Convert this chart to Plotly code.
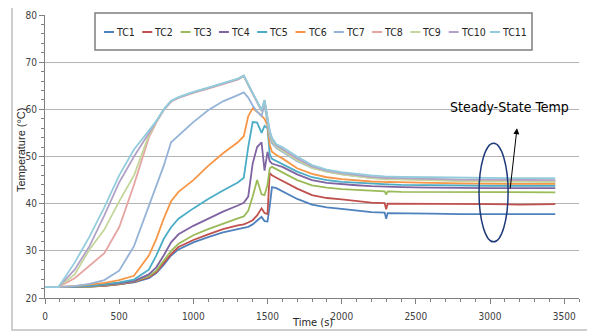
import plotly.graph_objects as go

# ---------------- data ----------------
time_s = [0, 90, 200, 300, 400, 500, 600, 700, 750, 800, 850, 900, 1000, 1100, 1200, 1300,
          1340, 1370, 1400, 1430, 1460, 1480, 1500, 1515, 1530, 1560, 1600, 1700, 1800, 1900,
          2000, 2100, 2200, 2290, 2300, 2310, 2400, 2600, 2800, 3000, 3200, 3440]

tc1 = [22.3, 22.3, 22.3, 22.4, 22.6, 22.9, 23.3, 24.2, 25.3, 27.0, 29.0, 30.3, 31.8, 32.9, 33.9, 34.6,
       34.8, 35.1, 35.6, 36.5, 37.2, 36.3, 36.2, 39.5, 43.5, 43.3, 42.6, 41.0, 39.8, 39.2,
       38.9, 38.5, 38.2, 38.1, 36.8, 38.0, 38.0, 37.9, 37.8, 37.8, 37.7, 37.8]
tc2 = [22.3, 22.3, 22.3, 22.4, 22.6, 22.9, 23.4, 24.4, 25.5, 27.3, 29.3, 30.8, 32.3, 33.5, 34.6, 35.4,
       35.6, 36.0, 36.5, 37.5, 39.0, 38.0, 37.8, 46.5, 46.0, 45.5, 44.8, 43.2, 41.8, 41.2,
       40.9, 40.5, 40.2, 40.1, 38.8, 40.0, 40.0, 40.0, 39.9, 39.9, 39.8, 39.9]
tc3 = [22.3, 22.3, 22.3, 22.4, 22.7, 23.0, 23.5, 24.6, 25.8, 27.8, 30.0, 31.5, 33.3, 34.6, 35.8, 36.9,
       37.3, 38.5, 41.5, 45.0, 42.0, 41.8, 44.0, 47.5, 47.8, 47.3, 46.6, 45.0, 43.9, 43.4,
       43.1, 42.9, 42.7, 42.6, 41.9, 42.6, 42.5, 42.5, 42.4, 42.4, 42.4, 42.4]
tc4 = [22.3, 22.3, 22.4, 22.5, 22.8, 23.1, 23.6, 25.0, 26.5, 29.0, 31.8, 33.5, 35.3, 36.8, 38.3, 39.6,
       40.2, 41.5, 48.5, 52.0, 53.0, 47.0, 51.0, 49.0, 48.5, 48.2, 47.8, 46.2, 45.0, 44.4,
       44.1, 43.9, 43.7, 43.6, 43.5, 43.6, 43.5, 43.4, 43.3, 43.3, 43.3, 43.3]
tc5 = [22.3, 22.3, 22.4, 22.6, 22.9, 23.3, 23.9, 26.0, 29.0, 32.5, 35.0, 36.8, 39.0, 41.0, 42.8, 44.5,
       45.5, 52.0, 57.3, 57.2, 55.0, 56.5, 56.0, 50.5, 49.5, 49.0, 48.5, 46.8, 45.6, 45.0,
       44.6, 44.4, 44.2, 44.1, 44.0, 44.1, 44.0, 43.9, 43.9, 43.8, 43.8, 43.8]
tc6 = [22.3, 22.3, 22.5, 22.8, 23.2, 23.8, 24.7, 29.0, 32.5, 36.8, 40.5, 42.5, 45.0, 48.0, 50.7, 53.0,
       54.3, 58.5, 60.2, 59.5, 58.5, 58.0, 56.5, 52.5, 51.0, 50.3, 49.6, 47.5, 46.3, 45.6,
       45.2, 44.9, 44.7, 44.6, 44.5, 44.6, 44.5, 44.4, 44.3, 44.2, 44.2, 44.2]
tc7 = [22.3, 22.3, 22.5, 23.0, 23.8, 25.8, 31.0, 39.5, 43.5, 48.0, 53.0, 54.4, 57.3, 59.8, 61.7, 63.0,
       63.6, 62.5, 60.8, 59.5, 58.6, 61.0, 57.5, 54.0, 52.8, 51.8, 51.0, 49.0, 47.6, 46.8,
       46.2, 45.8, 45.5, 45.3, 45.2, 45.3, 45.2, 45.0, 44.9, 44.8, 44.7, 44.7]
tc8 = [22.3, 22.3, 24.2, 26.8, 29.5, 35.0, 44.0, 54.0, 57.2, 59.8, 61.6, 62.4, 63.5, 64.4, 65.3, 66.3,
       67.0, 65.3, 63.3, 61.5, 59.6, 61.8, 58.3, 55.0, 53.6, 52.2, 51.4, 49.4, 47.8, 47.0,
       46.4, 46.0, 45.6, 45.4, 45.3, 45.4, 45.3, 45.1, 45.0, 44.9, 44.8, 44.8]
tc9 = [22.3, 22.3, 25.0, 30.3, 34.5, 40.5, 46.0, 54.5, 57.3, 59.9, 61.7, 62.5, 63.6, 64.5, 65.4, 66.4,
       67.1, 65.4, 63.4, 61.6, 59.7, 61.9, 58.1, 54.8, 53.4, 52.0, 51.2, 49.2, 47.6, 46.8,
       46.2, 45.8, 45.4, 45.2, 45.1, 45.2, 45.1, 44.9, 44.8, 44.7, 44.6, 44.6]
tc10 = [22.3, 22.3, 26.0, 31.0, 37.5, 44.5, 50.0, 54.8, 57.4, 59.9, 61.7, 62.5, 63.6, 64.5, 65.4, 66.4,
        67.1, 65.4, 63.4, 61.6, 59.7, 61.9, 58.4, 55.2, 53.8, 52.3, 51.6, 49.6, 47.9, 47.0,
        46.5, 46.1, 45.7, 45.5, 45.4, 45.5, 45.4, 45.2, 45.1, 45.1, 45.0, 45.0]
tc11 = [22.3, 22.3, 27.5, 33.0, 39.2, 46.0, 51.5, 55.4, 57.5, 60.0, 61.8, 62.6, 63.7, 64.6, 65.5, 66.5,
        67.2, 65.5, 63.5, 61.7, 59.8, 62.0, 58.5, 55.5, 54.0, 52.6, 52.0, 50.0, 48.2, 47.2,
        46.7, 46.3, 46.0, 45.8, 45.8, 45.8, 45.7, 45.6, 45.5, 45.5, 45.4, 45.4]

series_names = ["TC1", "TC2", "TC3", "TC4", "TC5", "TC6", "TC7", "TC8", "TC9", "TC10", "TC11"]
series_values = [tc1, tc2, tc3, tc4, tc5, tc6, tc7, tc8, tc9, tc10, tc11]
x_tick_values = [0, 500, 1000, 1500, 2000, 2500, 3000, 3500]
y_tick_values = [20, 30, 40, 50, 60, 70, 80]

# ---------------- styling ----------------
colors = ["#4F81BD", "#C0504D", "#9BBB59", "#8064A2", "#4BACC6", "#F79646",
          "#95B3D7", "#E6A5A2", "#C3D69B", "#B3A2C7", "#93CDDD"]
COND = "DejaVu Sans Condensed, Liberation Sans, sans-serif"

# the page body adds an 8px offset; lay the figure out in window pixels minus that offset
OFF = 8
W, H = 595, 333
PLOT_L, PLOT_R, PLOT_T, PLOT_B = 45, 579, 15, 298      # plot area in window pixels
ML, MT = PLOT_L - OFF, PLOT_T - OFF
MR, MB = W - (PLOT_R - OFF), H - (PLOT_B - OFF)
PW, PH = PLOT_R - PLOT_L, PLOT_B - PLOT_T


def px_x(px):
    return (px - PLOT_L) / PW


def px_y(py):
    return (PLOT_B - py) / PH


fig = go.Figure()
for name, vals, col in zip(series_names, series_values, colors):
    fig.add_trace(go.Scatter(x=time_s, y=vals, mode="lines", name=name,
                             line=dict(color=col, width=1.8), showlegend=False))

shapes = []
annotations = []

# outer chart frame
shapes.append(dict(type="rect", xref="paper", yref="paper",
                   x0=px_x(12), x1=px_x(590), y0=px_y(330), y1=px_y(5),
                   line=dict(color="#BFBFBF", width=1.5), layer="below"))

# legend box
shapes.append(dict(type="rect", xref="paper", yref="paper",
                   x0=px_x(95), x1=px_x(532), y0=px_y(50), y1=px_y(13),
                   line=dict(color="#7F7F7F", width=1.5), fillcolor="white", layer="above"))
for i, (name, col) in enumerate(zip(series_names, colors)):
    x0 = 104 + 38.3 * i + (3 if i == 10 else 0)
    shapes.append(dict(type="line", xref="paper", yref="paper",
                       x0=px_x(x0), x1=px_x(x0 + 10), y0=px_y(32), y1=px_y(32),
                       line=dict(color=col, width=2), layer="above"))
    annotations.append(dict(xref="paper", yref="paper", x=px_x(x0 + 10), y=px_y(32),
                            xanchor="left", yanchor="middle", showarrow=False, text=name,
                            font=dict(family=COND, size=10.5, color="#262626")))

# steady-state ellipse
shapes.append(dict(type="circle", xref="x", yref="y", x0=2926, x1=3122, y0=31.9, y1=52.8,
                   line=dict(color="#1F3A7A", width=1.5)))

# arrow
annotations.append(dict(xref="x", yref="y", axref="x", ayref="y", x=3182, y=56.0, ax=3135, ay=42.9,
                        text="", showarrow=True, arrowhead=2, arrowsize=1.2, arrowwidth=1,
                        arrowcolor="#000000"))
annotations.append(dict(xref="paper", yref="paper", x=px_x(509), y=px_y(107), text="Steady-State Temp",
                        showarrow=False, xanchor="center", yanchor="middle",
                        font=dict(family=COND, size=14, color="#000000")))
# axis titles
annotations.append(dict(xref="paper", yref="paper", x=0.5, y=px_y(322), text="Time (s)",
                        showarrow=False, xanchor="center", yanchor="middle",
                        font=dict(family=COND, size=11, color="#262626")))
annotations.append(dict(xref="paper", yref="paper", x=px_x(21), y=px_y(150), text="Temperature (°C)",
                        showarrow=False, xanchor="center", yanchor="middle", textangle=-90,
                        font=dict(family="Liberation Sans, Arial, sans-serif", size=11,
                                  color="#262626")))

fig.update_layout(
    width=W, height=H,
    margin=dict(l=ML, r=MR, t=MT, b=MB, autoexpand=False),
    paper_bgcolor="white", plot_bgcolor="white",
    shapes=shapes, annotations=annotations,
    showlegend=False,
)
fig.update_xaxes(range=[0, 3600], tickvals=x_tick_values, showgrid=False, zeroline=False,
                 automargin=False,
                 showline=True, linecolor="#808080", linewidth=1,
                 ticks="outside", ticklen=5, tickcolor="#808080", ticklabelstandoff=4,
                 minor=dict(dtick=100, tick0=0, ticks="outside", ticklen=3, tickcolor="#808080"),
                 tickfont=dict(family=COND, size=10, color="#404040"))
fig.update_yaxes(range=[20, 80], tickvals=y_tick_values, showgrid=True, gridcolor="#B4B4B4",
                 gridwidth=1.3, zeroline=False, automargin=False,
                 showline=True, linecolor="#808080", linewidth=1,
                 ticks="outside", ticklen=5, tickcolor="#808080",
                 minor=dict(dtick=2, tick0=20, ticks="outside", ticklen=3, tickcolor="#808080",
                            showgrid=False),
                 tickfont=dict(family=COND, size=10, color="#404040"))

fig.write_html("out.html")
